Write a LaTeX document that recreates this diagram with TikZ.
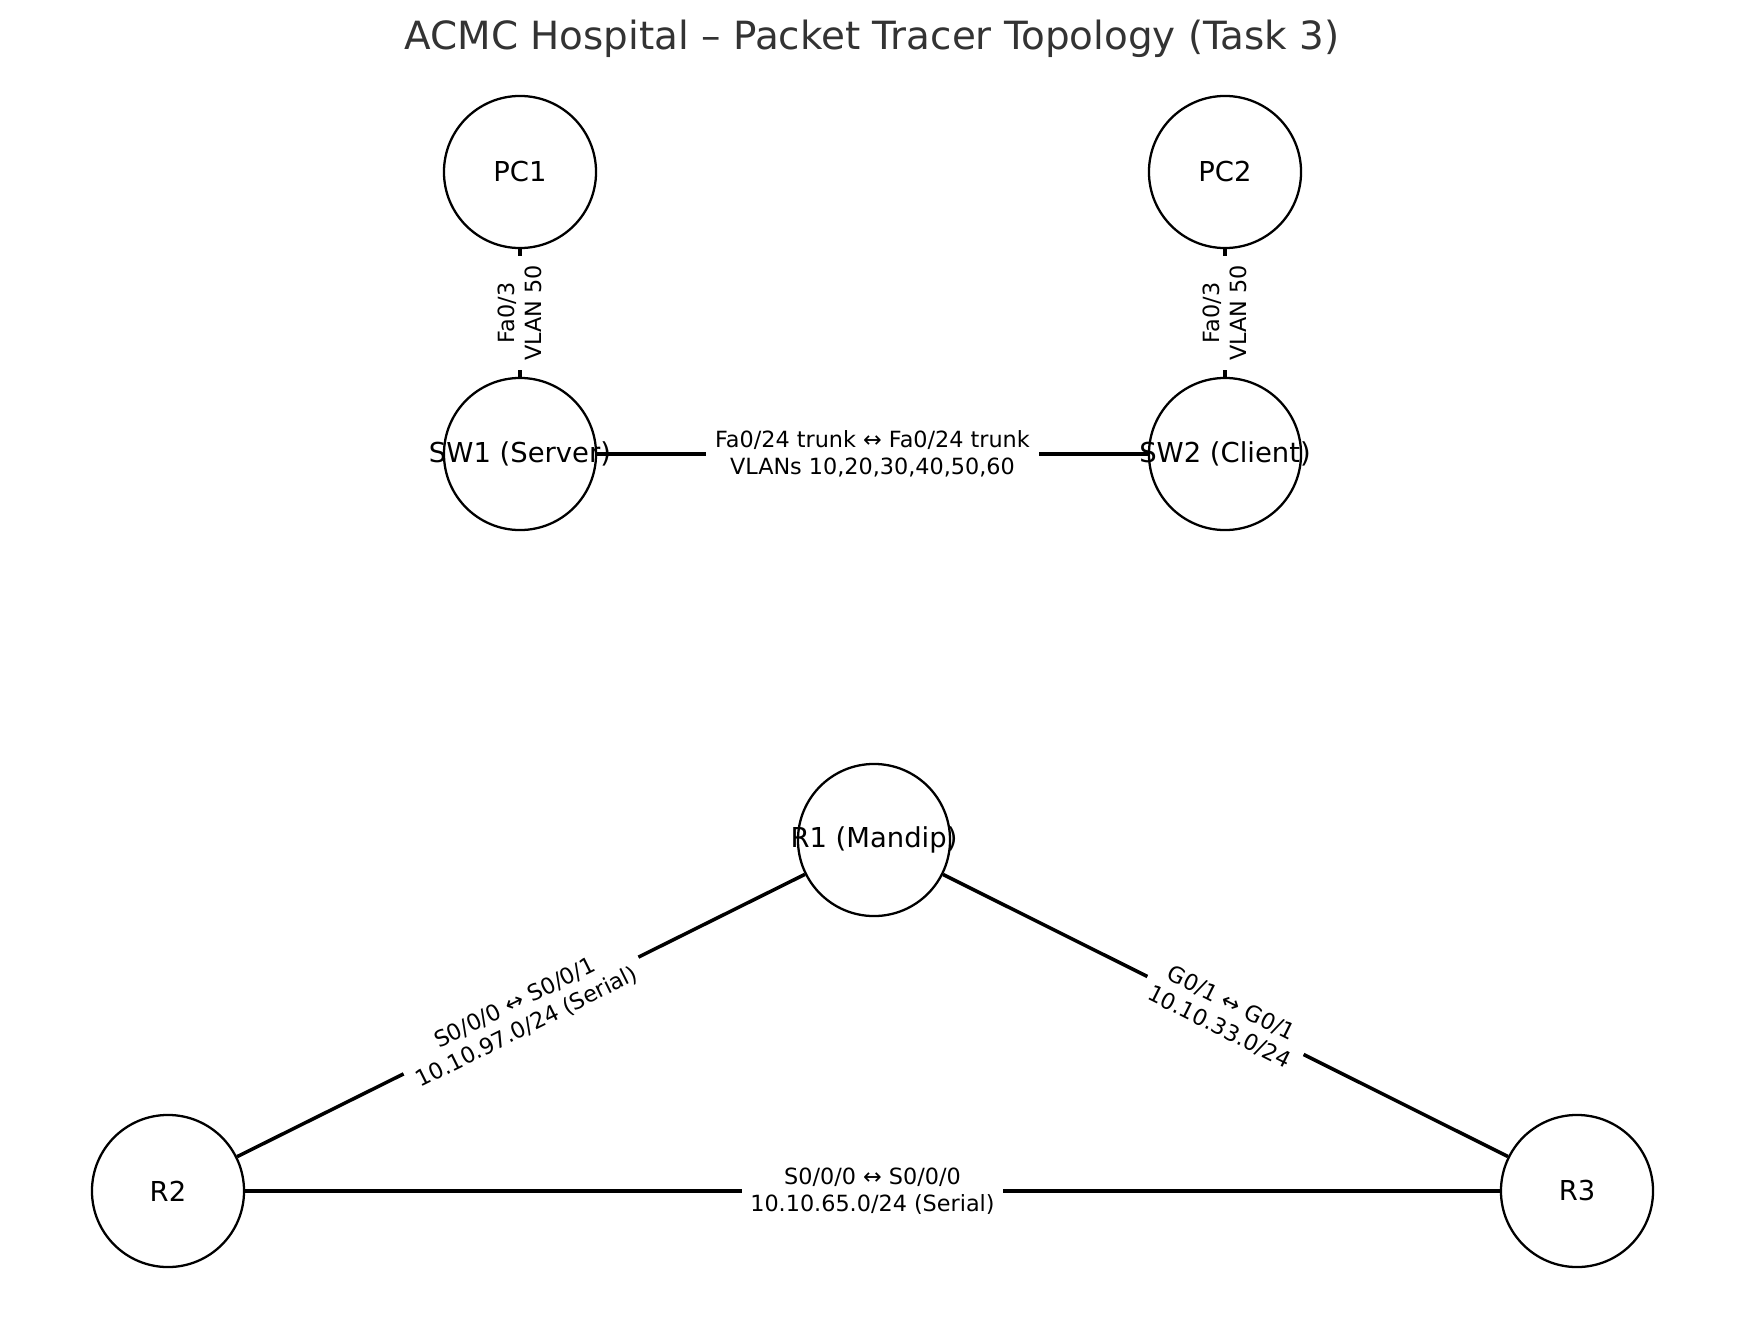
\documentclass[tikz,border=0pt]{standalone}
\usepackage{fontspec}
\setmainfont{DejaVu Sans}
\usetikzlibrary{backgrounds}
\definecolor{titlegray}{RGB}{51,51,51}

\tikzset{
  device/.style={circle, draw, line width=0.65pt, fill=white, minimum size=1.52cm,
    inner sep=0pt, font=\fontsize{7.8}{9.4}\selectfont},
  link/.style={line width=1pt},
  linklabel/.style={fill=white, sloped, align=center, inner sep=2.5pt,
    font=\fontsize{6.35}{7.6}\selectfont}
}

\begin{document}
\begin{tikzpicture}[x=0.01cm, y=-0.01cm]

  \newcommand\LEFT{520}
  \newcommand\RIGHT{1225}

  \useasboundingbox (0,0) rectangle (1745,1318);

  \node[text=titlegray, font=\fontsize{11.05}{13}\selectfont] (TITLE) at (872,39)
    {ACMC Hospital – Packet Tracer Topology (Task 3)};

  % switch block
  \node[device] (PC1) at (\LEFT,172) {PC1};
  \node[device] (PC2) at (\RIGHT,172) {PC2};
  \node[device] (SW1) at (\LEFT,454) {\makebox[0pt]{SW1 (Server)}};
  \node[device] (SW2) at (\RIGHT,454) {\makebox[0pt]{SW2 (Client)}};

  % routers
  \node[device] (R1) at (874,840) {\makebox[0pt]{R1 (Mandip)}};
  \node[device] (R2) at (168,1191) {R2};
  \node[device] (R3) at (1577,1191) {R3};

  \begin{scope}[on background layer]
    \draw[link] (SW1) -- node[linklabel]{Fa0/3\\VLAN 50} (PC1);
    \draw[link] (SW2) -- node[linklabel]{Fa0/3\\VLAN 50} (PC2);
    \draw[link] (SW1) -- node[linklabel]{Fa0/24 trunk ↔ Fa0/24 trunk\\VLANs 10,20,30,40,50,60} (SW2);

    \draw[link] (R2) -- node[linklabel]{S0/0/0 ↔ S0/0/1\\10.10.97.0/24 (Serial)} (R1);
    \draw[link] (R1) -- node[linklabel]{G0/1 ↔ G0/1\\10.10.33.0/24} (R3);
    \draw[link] (R2) -- node[linklabel]{S0/0/0 ↔ S0/0/0\\10.10.65.0/24 (Serial)} (R3);
  \end{scope}

\end{tikzpicture}
\end{document}
